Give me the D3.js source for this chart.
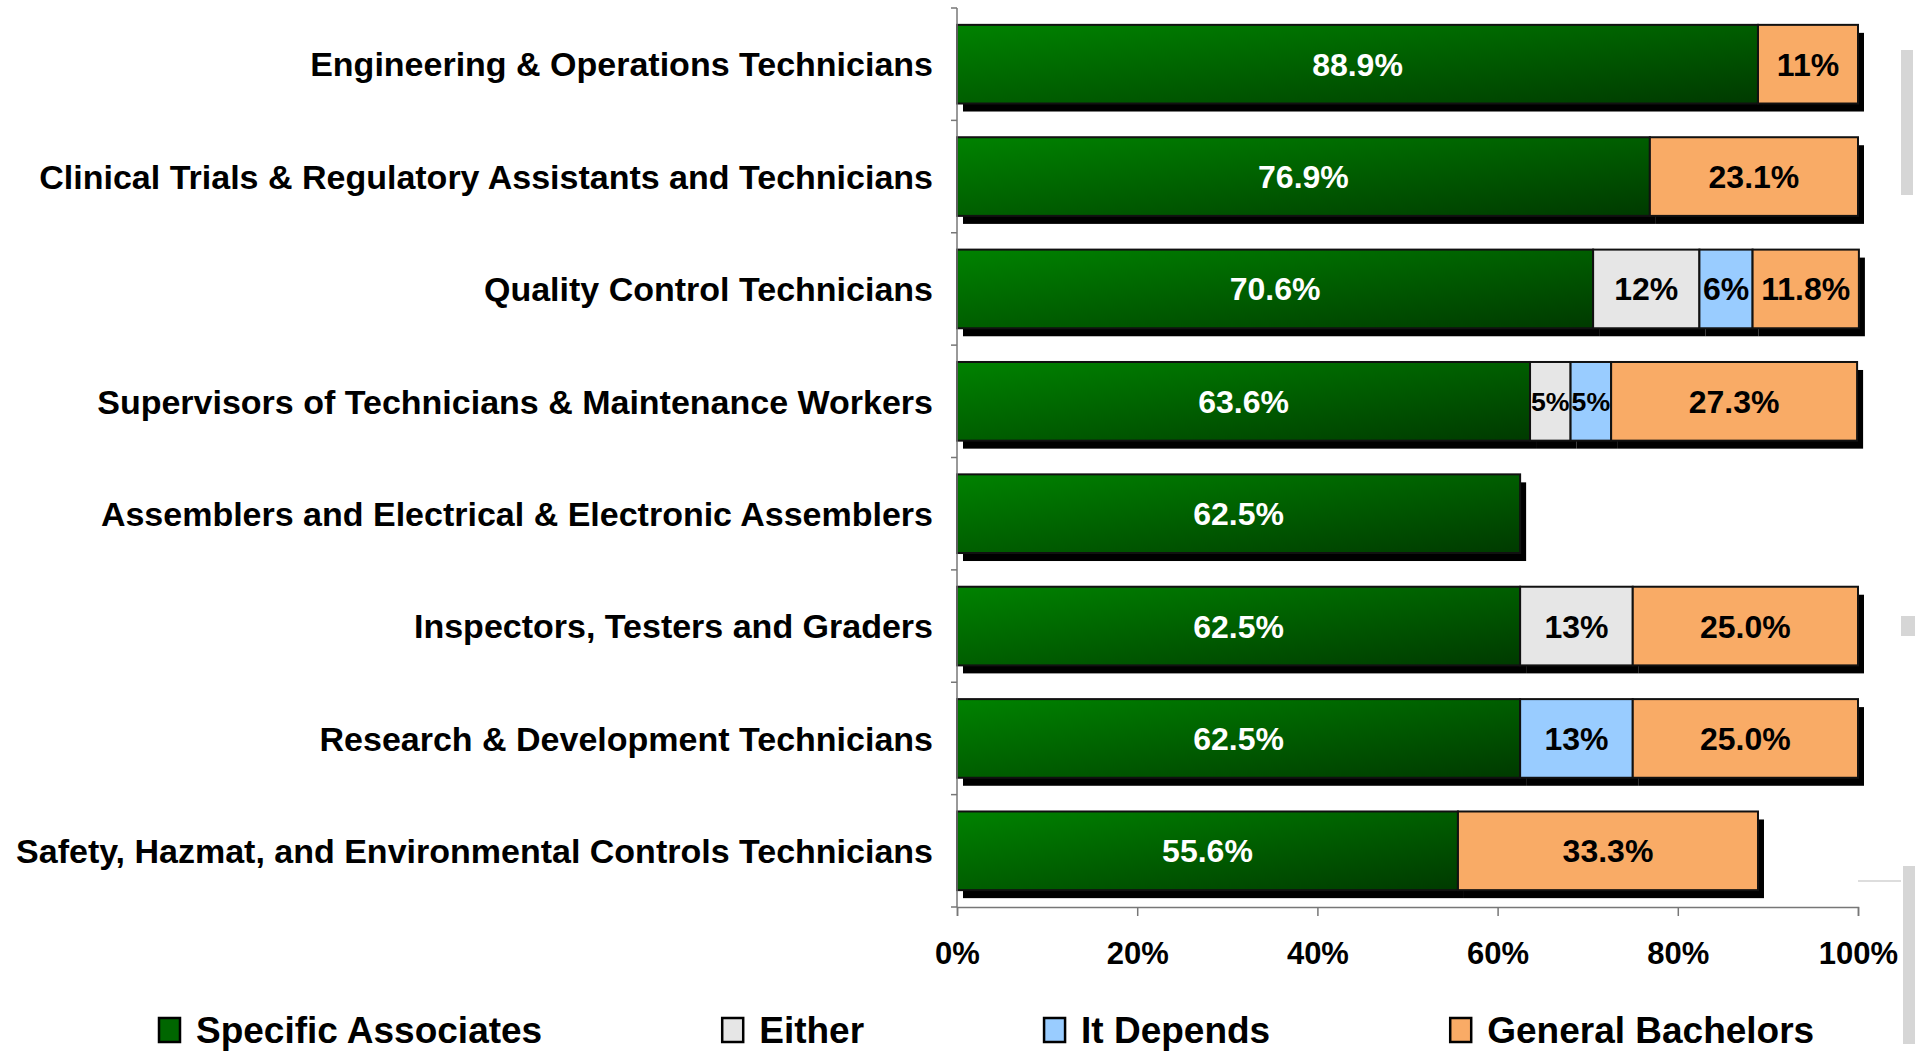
<!DOCTYPE html>
<html>
<head>
<meta charset="utf-8">
<script src="https://cdn.jsdelivr.net/npm/d3@7"></script>
<style>
  html, body { margin: 0; padding: 0; background: #fff; }
  svg text { font-family: "Liberation Sans", Arial, sans-serif; font-weight: bold; }
</style>
</head>
<body>
<div id="chart"></div>
<script>
// categories, top to bottom
const categories = [
  'Engineering & Operations Technicians',
  'Clinical Trials & Regulatory Assistants and Technicians',
  'Quality Control Technicians',
  'Supervisors of Technicians & Maintenance Workers',
  'Assemblers and Electrical & Electronic Assemblers',
  'Inspectors, Testers and Graders',
  'Research & Development Technicians',
  'Safety, Hazmat, and Environmental Controls Technicians'
];

const seriesNames = ['Specific Associates', 'Either', 'It Depends', 'General Bachelors'];
const seriesColors = ['#007a00', '#e6e6e6', '#99ccff', '#f9ab66'];

const specificAssociates = [88.9, 76.9, 70.6, 63.6, 62.5, 62.5, 62.5, 55.6];
const either = [0, 0, 11.8, 4.5, 0, 12.5, 0, 0];
const itDepends = [0, 0, 5.9, 4.5, 0, 0, 12.5, 0];
const generalBachelors = [11.1, 23.1, 11.8, 27.3, 0, 25.0, 25.0, 33.3];

const specificLabels = ['88.9%', '76.9%', '70.6%', '63.6%', '62.5%', '62.5%', '62.5%', '55.6%'];
const eitherLabels = ['', '', '12%', '5%', '', '13%', '', ''];
const dependsLabels = ['', '', '6%', '5%', '', '', '13%', ''];
const bachelorsLabels = ['11%', '23.1%', '11.8%', '27.3%', '', '25.0%', '25.0%', '33.3%'];

const xTicks = [0, 20, 40, 60, 80, 100];

let w = 1923;
let h = 1052;
let margin = {left: 957, right: 65, top: 8, bottom: 145};

let svg = d3.select('#chart')
  .append('svg')
  .attr('width', w)
  .attr('height', h);

let defs = svg.append('defs');
let grad = defs.append('linearGradient')
  .attr('id', 'greenGrad')
  .attr('x1', 0).attr('y1', 0)
  .attr('x2', 1).attr('y2', 1);
grad.append('stop').attr('offset', '0%').attr('stop-color', '#008200');
grad.append('stop').attr('offset', '100%').attr('stop-color', '#003a00');

// faint grey scraps at the right edge of the original slide
let scraps = svg.append('g').attr('fill', '#d6d6d6');
scraps.append('rect').attr('x', 1901).attr('y', 50).attr('width', 12).attr('height', 145);
scraps.append('rect').attr('x', 1901).attr('y', 616).attr('width', 14).attr('height', 20);
scraps.append('rect').attr('x', 1903).attr('y', 866).attr('width', 12).attr('height', 178);
svg.append('line')
  .attr('x1', 1858).attr('x2', 1901).attr('y1', 881).attr('y2', 881)
  .attr('stroke', '#bbb').attr('stroke-width', 1);

let x = d3.scaleLinear()
  .domain([0, 100])
  .range([margin.left, w - margin.right]);

let y = d3.scaleBand()
  .domain(categories)
  .range([margin.top, h - margin.bottom])
  .paddingInner(0.3)
  .paddingOuter(0.15);

// build rows for the stack
let keys = ['sa', 'ei', 'dep', 'gb'];
let rows = categories.map(function(c, i) {
  return {cat: c, sa: specificAssociates[i], ei: either[i], dep: itDepends[i], gb: generalBachelors[i],
    labels: [specificLabels[i], eitherLabels[i], dependsLabels[i], bachelorsLabels[i]]};
});
let stacked = d3.stack().keys(keys)(rows);

// shadows first
stacked.forEach(function(layer) {
  svg.append('g').selectAll('rect')
    .data(layer.filter(function(d) { return d[1] - d[0] > 0; }))
    .enter()
    .append('rect')
    .attr('x', function(d) { return x(d[0]) + 6; })
    .attr('y', function(d) { return y(d.data.cat) + 8; })
    .attr('width', function(d) { return x(d[1]) - x(d[0]); })
    .attr('height', y.bandwidth())
    .attr('fill', '#000');
});

stacked.forEach(function(layer, k) {
  let g = svg.append('g');
  let segs = layer.filter(function(d) { return d[1] - d[0] > 0; });
  g.selectAll('rect')
    .data(segs)
    .enter()
    .append('rect')
    .attr('x', function(d) { return x(d[0]); })
    .attr('y', function(d) { return y(d.data.cat); })
    .attr('width', function(d) { return x(d[1]) - x(d[0]); })
    .attr('height', y.bandwidth())
    .attr('fill', k === 0 ? 'url(#greenGrad)' : seriesColors[k])
    .attr('stroke', '#111')
    .attr('stroke-width', 2);

  g.selectAll('text')
    .data(segs)
    .enter()
    .append('text')
    .attr('x', function(d) { return (x(d[0]) + x(d[1])) / 2; })
    .attr('y', function(d) { return y(d.data.cat) + y.bandwidth() / 2; })
    .attr('text-anchor', 'middle')
    .attr('dy', '0.36em')
    .attr('font-size', 32)
    .attr('fill', k === 0 ? '#fff' : '#000')
    .text(function(d) { return d.data.labels[k]; })
    .each(function(d) {
      // shrink labels that don't fit in narrow segments
      let room = x(d[1]) - x(d[0]) - 2;
      let len = this.getComputedTextLength();
      if (len > room) {
        d3.select(this).attr('font-size', Math.max(16, 32 * room / len));
      }
    });
});

// y axis
let yAxis = svg.append('g');
yAxis.append('line')
  .attr('x1', margin.left).attr('x2', margin.left)
  .attr('y1', margin.top).attr('y2', h - margin.bottom)
  .attr('stroke', '#777').attr('stroke-width', 1.5);
let bounds = categories.map(function(c) { return y(c) - y.step() * y.paddingInner() / 2; });
bounds.push(h - margin.bottom);
yAxis.selectAll('line.tick')
  .data(bounds)
  .enter()
  .append('line')
  .attr('class', 'tick')
  .attr('x1', margin.left - 6).attr('x2', margin.left)
  .attr('y1', function(d) { return d; }).attr('y2', function(d) { return d; })
  .attr('stroke', '#777').attr('stroke-width', 1.5);

svg.append('g').selectAll('text')
  .data(categories)
  .enter()
  .append('text')
  .attr('x', margin.left - 24)
  .attr('y', function(d) { return y(d) + y.bandwidth() / 2; })
  .attr('dy', '0.36em')
  .attr('text-anchor', 'end')
  .attr('font-size', 34)
  .attr('fill', '#000')
  .text(function(d) { return d; });

// x axis
let xAxis = svg.append('g')
  .attr('transform', 'translate(0,' + (h - margin.bottom) + ')')
  .call(d3.axisBottom(x).tickValues(xTicks).tickSize(9).tickPadding(26)
    .tickFormat(function(d) { return d + '%'; }));
xAxis.select('.domain').attr('stroke', '#777').attr('stroke-width', 1.5);
xAxis.selectAll('.tick line').attr('stroke', '#777').attr('stroke-width', 1.5);
xAxis.selectAll('.tick text')
  .attr('font-size', 31)
  .attr('fill', '#000')
  .attr('font-family', '"Liberation Sans", Arial, sans-serif');

// legend
let legend = svg.append('g').attr('transform', 'translate(159,1030)');
let lx = 0;
seriesNames.forEach(function(name, i) {
  let item = legend.append('g').attr('transform', 'translate(' + lx + ',0)');
  item.append('rect')
    .attr('x', 0).attr('y', -12)
    .attr('width', 21).attr('height', 24)
    .attr('fill', i === 0 ? '#006600' : seriesColors[i])
    .attr('stroke', '#000').attr('stroke-width', 2.5);
  let t = item.append('text')
    .attr('x', 37).attr('y', 0)
    .attr('dy', '0.34em')
    .attr('font-size', 37)
    .attr('fill', '#000')
    .text(name);
  lx += 37 + t.node().getComputedTextLength() + 180;
});
</script>
</body>
</html>
